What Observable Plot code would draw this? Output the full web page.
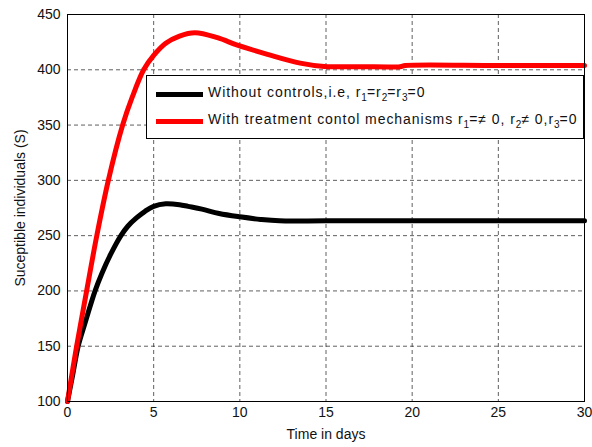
<!DOCTYPE html>
<html>
<head>
<meta charset="utf-8">
<script src="https://cdn.jsdelivr.net/npm/d3@7"></script>
<script src="https://cdn.jsdelivr.net/npm/@observablehq/plot@0.6"></script>
<style>
  html, body { margin: 0; padding: 0; background: #fff; }
  #wrap { position: relative; width: 592px; height: 447px; font-family: "Liberation Sans", Arial, Helvetica, sans-serif; }
  #legend { position: absolute; left: 146px; top: 75px; width: 436px; height: 62px; background: #fff; border: 1px solid #000; font-size: 14px; letter-spacing: 0.95px; color: #111; }
  .row { position: absolute; left: 0; height: 20px; white-space: nowrap; }
  .sw { position: absolute; left: 9px; width: 47px; height: 5px; }
  .lab { position: absolute; left: 61px; top: -1px; line-height: 16px; }
  sub { font-size: 10px; vertical-align: -4px; line-height: 0; letter-spacing: 0; }
</style>
</head>
<body>
<div id="wrap">
  <div id="chart"></div>
  <div id="legend">
    <div class="row" style="top:9px"><div class="sw" style="top:7px;background:#000"></div><div class="lab">Without controls,i.e, r<sub>1</sub>=r<sub>2</sub>=r<sub>3</sub>=0</div></div>
    <div class="row" style="top:36px"><div class="sw" style="top:7px;background:#ff0000"></div><div class="lab">With treatment contol mechanisms r<sub>1</sub>=&ne; 0, r<sub>2</sub>&ne; 0,r<sub>3</sub>=0</div></div>
  </div>
</div>
<script>
// Series: without controls (black)
const tBlack = [0, 0.3, 0.62, 1, 1.6, 2, 2.5, 3.1, 3.5, 4, 4.5, 5, 5.7, 6.5, 7, 7.8, 8.8, 10, 11.2, 12.3, 15, 20, 25, 30];
const sBlack = [100, 124, 150, 170, 200, 216, 233, 250, 258.5, 266, 272, 276.5, 278.8, 278, 276.5, 274, 270, 267, 264.7, 263.4, 263.4, 263.4, 263.4, 263.4];
// Series: with treatment control mechanisms (red)
const tRed = [0, 0.53, 1.11, 1.7, 2.37, 3.2, 3.75, 4.42, 5, 5.7, 6.5, 7.4, 8.7, 9.9, 11.6, 13.5, 14.9, 17, 19.3, 19.6, 25, 30];
const sRed = [100, 150, 200, 250, 300, 350, 375, 400, 413, 424, 430.5, 433.5, 429, 422, 414, 406, 403, 402.8, 402.8, 403.8, 403.8, 403.8];
// Tick values
const xTicks = [0, 5, 10, 15, 20, 25, 30];
const yTicks = [100, 150, 200, 250, 300, 350, 400, 450];

const black = tBlack.map((t, i) => ({t, s: sBlack[i]}));
const red = tRed.map((t, i) => ({t, s: sRed[i]}));

const chart = Plot.plot({
  width: 592,
  height: 447,
  marginLeft: 67,
  marginRight: 8,
  marginTop: 14,
  marginBottom: 46,
  style: {fontFamily: '"Liberation Sans", Arial, Helvetica, sans-serif', fontSize: "14px", color: "#111", background: "#fff"},
  x: {domain: [0, 30], ticks: xTicks, label: "Time in days", labelAnchor: "center", labelArrow: "none", labelOffset: 37, tickSize: 0, tickPadding: 6},
  y: {domain: [100, 450], ticks: yTicks, label: "Suceptible individuals (S)", labelAnchor: "center", labelArrow: "none", labelOffset: 52, tickSize: 0, tickPadding: 7},
  marks: [
    Plot.gridX(xTicks, {stroke: "#222", strokeOpacity: 0.9, strokeDasharray: "4,3", strokeWidth: 0.8}),
    Plot.gridY(yTicks, {stroke: "#222", strokeOpacity: 0.9, strokeDasharray: "4,3", strokeWidth: 0.8}),
    Plot.line(black, {x: "t", y: "s", stroke: "#000", strokeWidth: 5, curve: "catmull-rom"}),
    Plot.line(red, {x: "t", y: "s", stroke: "#ff0000", strokeWidth: 5, curve: "catmull-rom"}),
    Plot.frame({stroke: "#000", strokeWidth: 1})
  ]
});
document.getElementById("chart").appendChild(chart);
</script>
</body>
</html>
